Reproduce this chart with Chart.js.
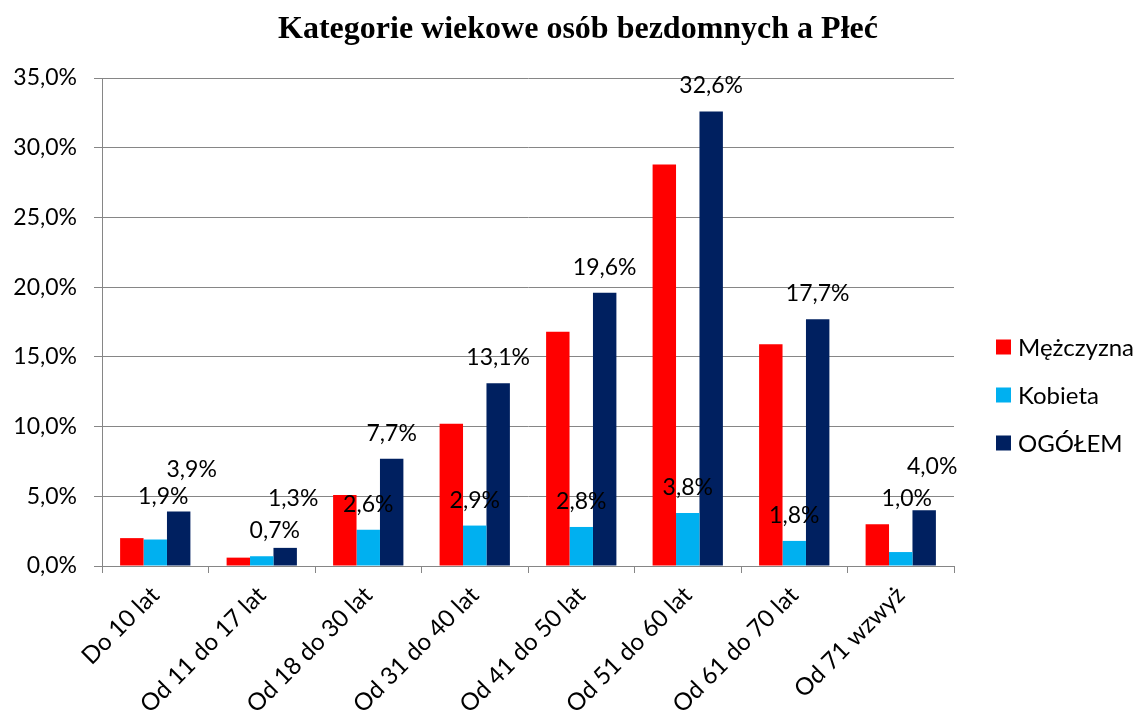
<!DOCTYPE html>
<html>
<head>
<meta charset="utf-8">
<script src="https://cdn.jsdelivr.net/npm/chart.js@4/dist/chart.umd.min.js"></script>
<style>
  html, body { margin: 0; padding: 0; background: #fff; }
  #wrap { width: 1136px; height: 715px; position: relative; }
</style>
</head>
<body>
<div id="wrap"><canvas id="chart"></canvas></div>
<script>
// data
const categories = ['Do 10 lat', 'Od 11 do 17 lat', 'Od 18 do 30 lat', 'Od 31 do 40 lat',
                    'Od 41 do 50 lat', 'Od 51 do 60 lat', 'Od 61 do 70 lat', 'Od 71 wzwyż'];
const men   = [2.0, 0.6, 5.1, 10.2, 16.8, 28.8, 15.9, 3.0];
const women = [1.9, 0.7, 2.6, 2.9, 2.8, 3.8, 1.8, 1.0];
const total = [3.9, 1.3, 7.7, 13.1, 19.6, 32.6, 17.7, 4.0];
const yTicks = [0, 5, 10, 15, 20, 25, 30, 35];
const titleText = 'Kategorie wiekowe osób bezdomnych a Płeć';

const FONT = 'Lato, "Open Sans", sans-serif';
const GRID = '#868686';
const fmt = v => v.toFixed(1).replace('.', ',') + '%';

// Excel moved a few labels by hand so they don't collide
const labelNudge = {
    '1-0': [8, -18], '2-0': [13, -17],
    '1-1': [13, 0],  '2-1': [8, -24],
    '1-7': [6, -28], '2-7': [8, -18]
};

const valueLabels = {
    id: 'valueLabels',
    afterDatasetsDraw(chart) {
        const ctx = chart.ctx;
        ctx.save();
        ctx.font = '23px ' + FONT;
        ctx.fillStyle = '#000';
        ctx.textAlign = 'center';
        ctx.textBaseline = 'alphabetic';
        [1, 2].forEach(di => {
            const meta = chart.getDatasetMeta(di);
            meta.data.forEach((bar, i) => {
                const n = labelNudge[di + '-' + i] || [0, 0];
                ctx.fillText(fmt(chart.data.datasets[di].data[i]), bar.x + n[0], bar.y - 18 + n[1]);
            });
        });
        ctx.restore();
    }
};

// title + legend drawn by hand so they sit where Excel put them
const decorations = {
    id: 'decorations',
    afterDraw(chart) {
        const ctx = chart.ctx;
        ctx.save();
        ctx.fillStyle = '#000';
        ctx.font = 'bold 32px "Liberation Serif", "Times New Roman", serif';
        ctx.textAlign = 'center';
        ctx.textBaseline = 'alphabetic';
        ctx.fillText(titleText, 578, 38);

        const x0 = chart.chartArea.right + 42;
        ctx.font = '24px ' + FONT;
        ctx.textBaseline = 'middle';
        ctx.textAlign = 'left';
        chart.data.datasets.forEach((ds, i) => {
            const cy = 347 + i * 48;
            ctx.fillStyle = ds.backgroundColor;
            ctx.fillRect(x0, cy - 7.5, 15, 15);
            ctx.fillStyle = '#000';
            ctx.fillText(ds.label, x0 + 22, cy + 1);
        });
        ctx.restore();
    }
};

new Chart(document.getElementById('chart'), {
    type: 'bar',
    data: {
        labels: categories,
        datasets: [
            { label: 'Mężczyzna', data: men, backgroundColor: '#FF0000' },
            { label: 'Kobieta', data: women, backgroundColor: '#00B0F0' },
            { label: 'OGÓŁEM', data: total, backgroundColor: '#002060' }
        ]
    },
    options: {
        responsive: true,
        maintainAspectRatio: false,
        animation: false,
        categoryPercentage: 0.66,
        barPercentage: 1.0,
        layout: { padding: { left: 0, right: 0, top: 78, bottom: 0 } },
        plugins: {
            legend: { display: false },
            tooltip: { enabled: false },
            title: { display: false }
        },
        scales: {
            x: {
                grid: { display: true, drawOnChartArea: false, color: GRID, tickLength: 7, offset: true },
                border: { color: GRID },
                ticks: { color: '#000', font: { family: FONT, size: 24 }, minRotation: 45, maxRotation: 45, padding: 8 },
                afterFit(s) { s.height = 149; }
            },
            y: {
                min: 0, max: 35,
                afterBuildTicks(s) { s.ticks = yTicks.map(v => ({ value: v })); },
                grid: { color: GRID, tickLength: 8 },
                border: { color: GRID },
                ticks: { color: '#000', font: { family: FONT, size: 23 }, padding: 17, callback: v => fmt(v) },
                afterFit(s) { s.width = 102; }
            },
            side: {
                position: 'right',
                display: true,
                grid: { display: false },
                border: { display: false },
                ticks: { display: false },
                afterFit(s) { s.width = 182; }
            }
        }
    },
    plugins: [valueLabels, decorations]
});
</script>
</body>
</html>
